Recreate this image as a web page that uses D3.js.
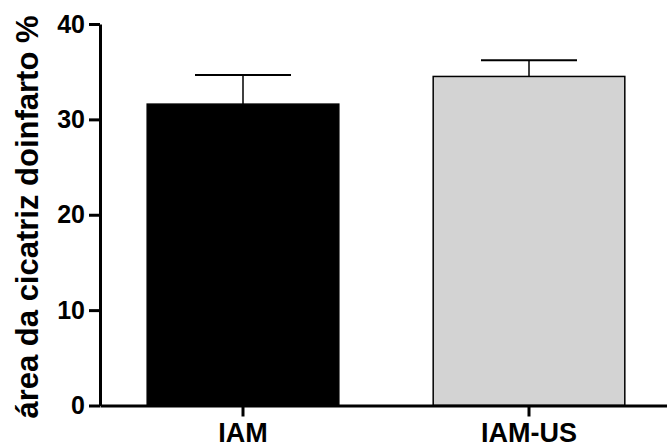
<!DOCTYPE html>
<html>
<head>
<meta charset="utf-8">
<script src="https://cdn.jsdelivr.net/npm/d3@7"></script>
<style>
  body { margin: 0; background: #fff; }
</style>
</head>
<body>
<div id="chart"></div>
<script>
// dados
const groups = ["IAM", "IAM-US"];
const means = [31.6, 34.5];
const sems = [3.05, 1.7];
const fills = ["#000000", "#d3d3d3"];
const yTicks = [0, 10, 20, 30, 40];
const yLabel = "área da cicatriz doinfarto %";

const width = 667, height = 448;
const font = "'Liberation Sans', Arial, sans-serif";

const svg = d3.select("#chart")
  .append("svg")
  .attr("width", width)
  .attr("height", height);

const x = d3.scaleBand()
  .domain(groups)
  .range([100, 672])
  .paddingInner(0.33)
  .paddingOuter(0.165);

const y = d3.scaleLinear()
  .domain([0, 40])
  .range([405.5, 24]);

// barras
svg.selectAll("rect.bar")
  .data(groups)
  .enter()
  .append("rect")
  .attr("class", "bar")
  .attr("x", d => x(d))
  .attr("y", (d, i) => y(means[i]))
  .attr("width", x.bandwidth())
  .attr("height", (d, i) => y(0) - y(means[i]))
  .attr("fill", (d, i) => fills[i])
  .attr("stroke", "#000")
  .attr("stroke-width", 1.5);

// barras de erro
const err = svg.selectAll("g.err")
  .data(groups)
  .enter()
  .append("g")
  .attr("class", "err");

err.append("line")
  .attr("x1", d => x(d) + x.bandwidth() / 2)
  .attr("x2", d => x(d) + x.bandwidth() / 2)
  .attr("y1", (d, i) => y(means[i]))
  .attr("y2", (d, i) => y(means[i] + sems[i]))
  .attr("stroke", "#000")
  .attr("stroke-width", 1.5);

err.append("line")
  .attr("x1", d => x(d) + x.bandwidth() / 2 - 48)
  .attr("x2", d => x(d) + x.bandwidth() / 2 + 48)
  .attr("y1", (d, i) => y(means[i] + sems[i]))
  .attr("y2", (d, i) => y(means[i] + sems[i]))
  .attr("stroke", "#000")
  .attr("stroke-width", 2);

// eixos
const yAxis = svg.append("g")
  .attr("transform", "translate(100,0)")
  .call(d3.axisLeft(y).tickValues(yTicks).tickSize(11).tickSizeOuter(0).tickPadding(4));

const xAxis = svg.append("g")
  .attr("transform", `translate(0,${y(0)})`)
  .call(d3.axisBottom(x).tickSize(11).tickSizeOuter(0).tickPadding(6));

[yAxis, xAxis].forEach(a => {
  a.attr("font-family", font).attr("font-weight", "bold");
  a.select(".domain").attr("stroke-width", 3);
  a.selectAll(".tick line").attr("stroke-width", 3);
  a.selectAll("text").attr("fill", "#000");
});
yAxis.attr("font-size", 25);
xAxis.attr("font-size", 27);

svg.append("text")
  .attr("transform", "translate(38,217) rotate(-90)")
  .attr("text-anchor", "middle")
  .attr("font-family", font)
  .attr("font-weight", "bold")
  .attr("font-size", 31)
  .text(yLabel);
</script>
</body>
</html>
